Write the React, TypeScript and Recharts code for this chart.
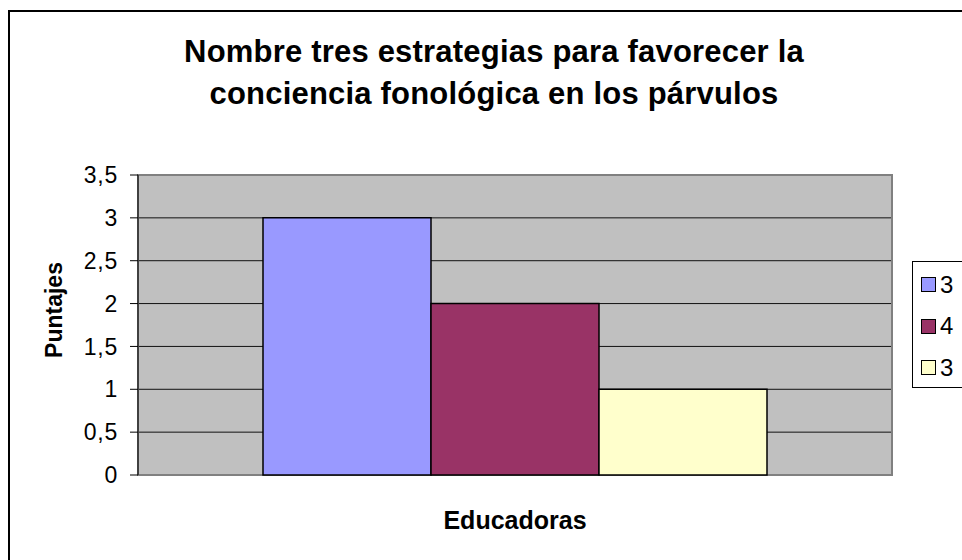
import { BarChart, Bar, XAxis, YAxis, CartesianGrid, Legend, ReferenceArea } from "recharts";

const categories = ["Educadoras"];
const seriesNames = ["3", "4", "3"];
const seriesValues = [3, 2, 1];
const seriesColors = ["#9999FF", "#993366", "#FFFFCC"];
const yTicks = [0, 0.5, 1, 1.5, 2, 2.5, 3, 3.5];

const chartData = categories.map((name) => {
  const row: Record<string, string | number> = { name };
  seriesValues.forEach((v, i) => {
    row[`s${i}`] = v;
  });
  return row;
});

const FONT = "Arial, 'Liberation Sans', sans-serif";

// legend keeps series order (recharts sorts the payload otherwise)
function renderLegend() {
  return (
    <div
      style={{
        width: 80,
        height: 127,
        border: "1px solid #000",
        background: "#fff",
        boxSizing: "border-box",
        paddingTop: 2,
        fontFamily: FONT,
      }}
    >
      {seriesNames.map((n, i) => (
        <div key={`leg-${i}`} style={{ height: 41.5, display: "flex", alignItems: "center" }}>
          <span
            style={{
              display: "inline-block",
              width: 15,
              height: 15,
              marginLeft: 8,
              background: seriesColors[i],
              border: "1px solid #000",
              boxSizing: "border-box",
            }}
          />
          <span style={{ marginLeft: 4, fontSize: 24, color: "#000", lineHeight: 1 }}>{n}</span>
        </div>
      ))}
    </div>
  );
}

export default function App() {
  return (
    <div style={{ position: "fixed", left: 0, top: 0, width: 962, height: 560, overflow: "hidden", background: "#fff" }}>
      <div
        style={{
          position: "absolute",
          left: 8,
          top: 10,
          width: 960,
          height: 560,
          border: "2px solid #000",
          boxSizing: "border-box",
        }}
      />
      <div
        style={{
          position: "absolute",
          left: 94,
          top: 31,
          width: 800,
          textAlign: "center",
          fontFamily: FONT,
          fontWeight: "bold",
          fontSize: 31,
          lineHeight: "42px",
          letterSpacing: 0.2,
          color: "#000",
        }}
      >
        Nombre tres estrategias para favorecer la
        <br />
        conciencia fonológica en los párvulos
      </div>
      <div
        style={{
          position: "absolute",
          left: 54 - 100,
          top: 310 - 14,
          width: 200,
          height: 28,
          lineHeight: "28px",
          textAlign: "center",
          transform: "rotate(-90deg)",
          fontFamily: FONT,
          fontWeight: "bold",
          fontSize: 23,
          color: "#000",
        }}
      >
        Puntajes
      </div>
      <div
        style={{
          position: "absolute",
          left: 515 - 150,
          top: 504,
          width: 300,
          textAlign: "center",
          fontFamily: FONT,
          fontWeight: "bold",
          fontSize: 25,
          lineHeight: "32px",
          color: "#000",
        }}
      >
        Educadoras
      </div>
      <div style={{ position: "absolute", left: 0, top: 0 }}>
        <BarChart
          width={962}
          height={560}
          data={chartData}
          margin={{ top: 175, right: 70, bottom: 85, left: 78 }}
          barCategoryGap={125}
          barGap={0}
        >
          <CartesianGrid
            vertical={false}
            fill="#C0C0C0"
            fillOpacity={1}
            stroke="#111"
            horizontalValues={[0.5, 1, 1.5, 2, 2.5, 3]}
          />
          <ReferenceArea y1={0} y2={3.5} fill="none" stroke="#808080" strokeWidth={2} ifOverflow="visible" />
          <XAxis dataKey="name" hide />
          <YAxis
            width={60}
            domain={[0, 3.5]}
            ticks={yTicks}
            interval={0}
            tickFormatter={(v: number) => String(v).replace(".", ",")}
            tick={{ fill: "#000", fontSize: 23, fontFamily: FONT, letterSpacing: 0.8 }}
            tickSize={8}
            tickMargin={12}
            axisLine={{ stroke: "#000", strokeWidth: 1 }}
            tickLine={{ stroke: "#000" }}
          />
          {seriesNames.map((n, i) => (
            <Bar
              key={`s${i}`}
              dataKey={`s${i}`}
              name={n}
              fill={seriesColors[i]}
              stroke="#000"
              strokeWidth={1.5}
              isAnimationActive={false}
            />
          ))}
          <Legend
            layout="horizontal"
            align="center"
            verticalAlign="middle"
            content={renderLegend}
            wrapperStyle={{ position: "absolute", left: 912, top: 261, width: 80, height: 127 }}
          />
        </BarChart>
      </div>
    </div>
  );
}
